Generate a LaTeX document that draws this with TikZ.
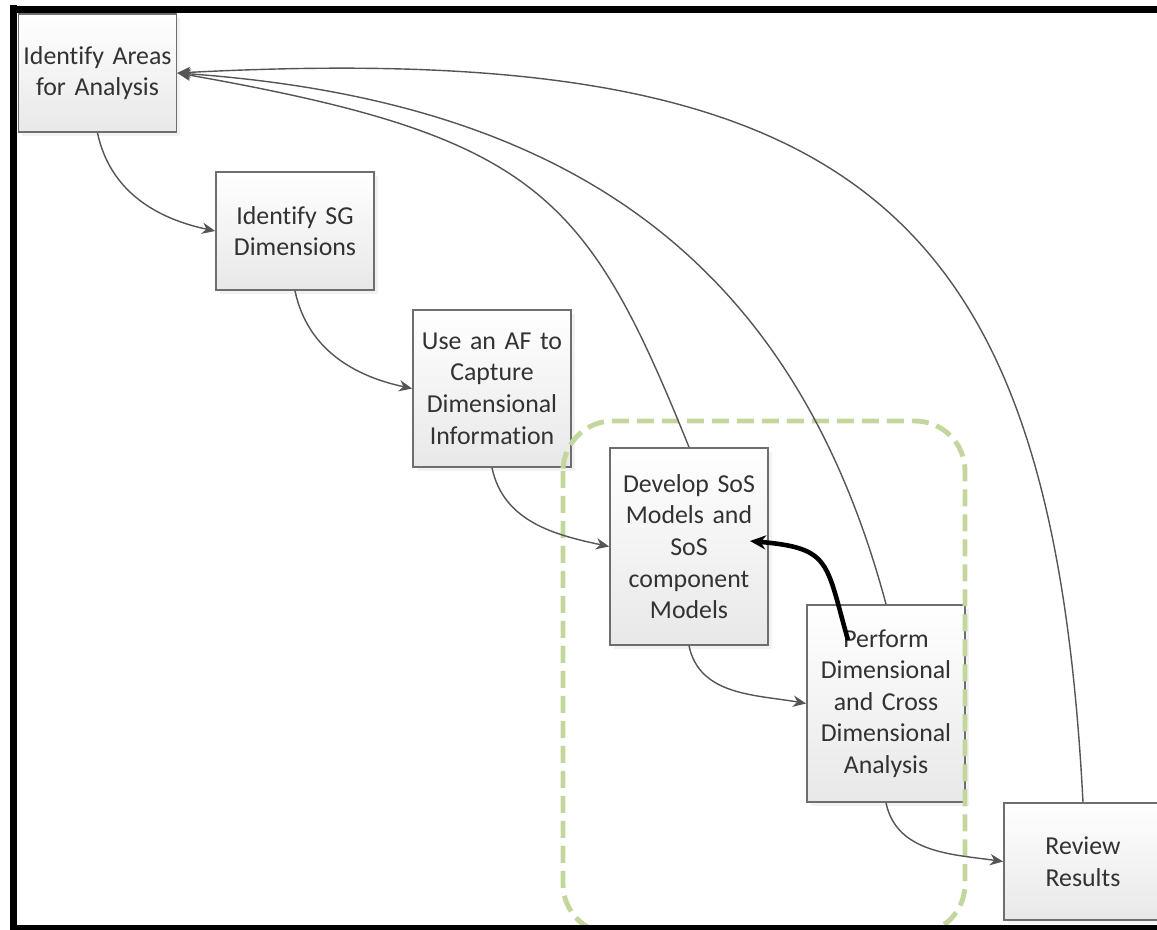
\documentclass[tikz,border=0pt]{standalone}
\usepackage{fontspec}
\setmainfont{Carlito}[Ligatures=NoCommon,WordSpace=0.8]
\usetikzlibrary{arrows.meta,shadows}
\definecolor{boxline}{RGB}{110,110,110}
\definecolor{boxtext}{RGB}{50,50,50}
\definecolor{linkgray}{RGB}{85,85,85}
\definecolor{groupgreen}{RGB}{195,214,155}

\begin{document}
\begin{tikzpicture}[x=0.02cm,y=0.02cm,
    stage/.style={draw=boxline,line width=1pt,top color=white,middle color=black!2,bottom color=black!9,
        minimum width=3.16cm,text width=3.1cm,inner sep=0pt,align=center,text=boxtext,
        font=\fontsize{14.7}{18}\selectfont,
        drop shadow={opacity=0.1,shadow xshift=2pt,shadow yshift=-2pt}},
    flow/.style={draw=linkgray,line width=0.8pt,-{Stealth[length=7.5pt,width=6.5pt]}},
    feedback/.style={draw=black,line width=2.6pt,-{Stealth[length=9pt,width=8pt]}},
    group/.style={draw=groupgreen,line width=2.8pt,dash pattern=on 0.34cm off 0.16cm,rounded corners=1cm}]
    \useasboundingbox (0,0) rectangle (1157,-930);

    \node[stage,minimum height=2.36cm] (areas) at (97.5,-73) {Identify Areas\\for Analysis};
    \node[stage,minimum height=2.36cm] (sg) at (295,-231) {Identify SG\\Dimensions};
    \node[stage,minimum height=3.14cm] (af) at (492,-388.5) {Use an AF to\\Capture\\Dimensional\\Information};
    \node[stage,minimum height=3.94cm] (develop) at (689,-546.5) {Develop SoS\\Models and\\SoS\\component\\Models};
    \node[stage,minimum height=3.94cm] (perform) at (886,-703.5) {Perform\\Dimensional\\and Cross\\Dimensional\\Analysis};
    \node[stage,minimum height=2.34cm] (review) at (1083,-861.5) {Review\\Results};

    \draw[group] (563,-421) rectangle (965,-934);

    \draw[flow] (areas.south) to[out=-78,in=168] (sg.west);
    \draw[flow] (sg.south) to[out=-78,in=168] (af.west);
    \draw[flow] (af.south) to[out=-78,in=168] (develop.west);
    \draw[flow] (develop.south) to[out=-78,in=170] (perform.west);
    \draw[flow] (perform.south) to[out=-78,in=172] (review.west);

    \draw[flow] (develop.north) .. controls +(112:275) and +(-10:365) .. (areas.east);
    \draw[flow] (perform.north) .. controls +(105:350) and +(-4:400) .. (areas.east);
    \draw[flow] (review.north) .. controls +(93:590) and +(3:690) .. (areas.east);

    \coordinate (fbstart) at (848,-640);
    \coordinate (fbend) at (750,-541);
    \draw[feedback] (fbstart) to[out=106,in=-5,looseness=1.5] (fbend);

    \draw[line width=4pt] (13.5,-5) -- (13.5,-930);
    \draw[line width=4pt] (10,-9.5) -- (1157,-9.5);
    \draw[line width=3.2pt] (10,-927.5) -- (1157,-927.5);
\end{tikzpicture}
\end{document}
